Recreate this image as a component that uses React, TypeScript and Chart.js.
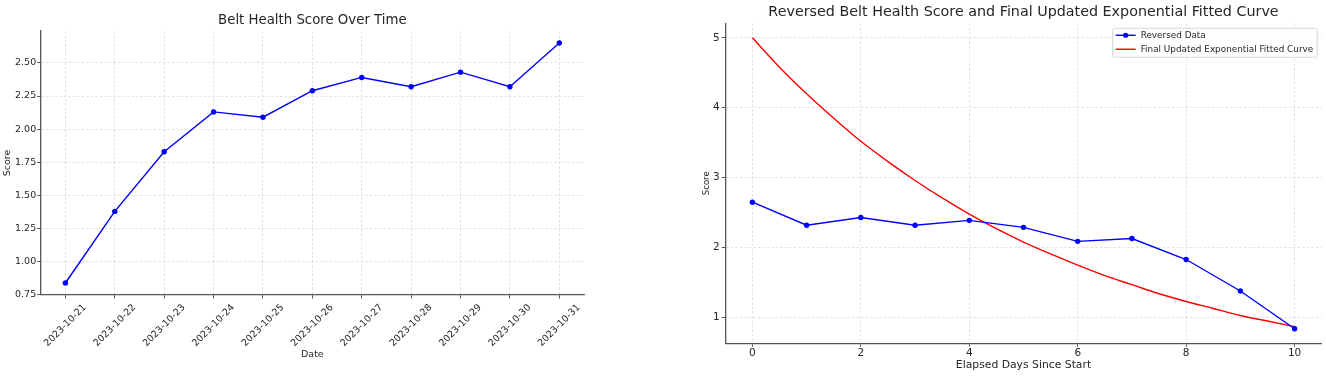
import React, { useEffect, useRef } from 'react';
import { Chart, registerables } from 'chart.js';

Chart.register(...registerables);

// ---------- data ----------
const dateLabels = [
  '2023-10-21', '2023-10-22', '2023-10-23', '2023-10-24', '2023-10-25', '2023-10-26',
  '2023-10-27', '2023-10-28', '2023-10-29', '2023-10-30', '2023-10-31',
];
const dayIndex = [0, 1, 2, 3, 4, 5, 6, 7, 8, 9, 10];
const healthScores = [0.84, 1.38, 1.83, 2.13, 2.09, 2.29, 2.39, 2.32, 2.43, 2.32, 2.65];

const elapsedDays = [0, 1, 2, 3, 4, 5, 6, 7, 8, 9, 10];
const reversedScores = [2.65, 2.32, 2.43, 2.32, 2.39, 2.29, 2.09, 2.13, 1.83, 1.38, 0.84];

const fitDays = [0, 0.5, 1, 1.5, 2, 2.5, 3, 3.5, 4, 4.5, 5, 5.5, 6, 6.5, 7, 7.5, 8, 8.5, 9, 9.5, 10];
const fitScores = [5.0, 4.58, 4.2, 3.85, 3.52, 3.23, 2.96, 2.71, 2.48, 2.27, 2.08, 1.91, 1.75, 1.6, 1.47, 1.34, 1.23, 1.13, 1.03, 0.95, 0.87];

const leftYTicks = [0.75, 1.0, 1.25, 1.5, 1.75, 2.0, 2.25, 2.5];
const rightXTicks = [0, 2, 4, 6, 8, 10];
const rightYTicks = [1, 2, 3, 4, 5];

// ---------- styles ----------
const FONT = "'DejaVu Sans', sans-serif";
const TEXT = '#262626';
const GRID = '#d9d9d9';
const SPINE = '#555555';
const BLUE = '#0000ff';
const RED = '#ff0000';

const insideLegend = {
  id: 'insideLegend',
  afterDatasetsDraw(chart: any) {
    const { ctx, chartArea } = chart;
    const ds = chart.data.datasets;
    ctx.save();
    ctx.font = `8.85px ${FONT}`;
    const textW = Math.max(...ds.map((d: any) => ctx.measureText(d.label).width));
    const boxW = 28 + textW + 4;
    const boxH = 29;
    const x0 = chartArea.right - 4.5 - boxW;
    const y0 = chartArea.top + 5;
    ctx.fillStyle = 'rgba(255,255,255,0.85)';
    ctx.strokeStyle = '#cccccc';
    ctx.lineWidth = 0.8;
    ctx.beginPath();
    ctx.roundRect(x0, y0, boxW, boxH, 2);
    ctx.fill();
    ctx.stroke();
    ds.forEach((d: any, i: number) => {
      const cy = y0 + 7 + i * 14;
      ctx.strokeStyle = d.borderColor;
      ctx.lineWidth = 1.4;
      ctx.beginPath();
      ctx.moveTo(x0 + 3, cy);
      ctx.lineTo(x0 + 23, cy);
      ctx.stroke();
      if (d.pointRadius > 0) {
        ctx.fillStyle = d.borderColor;
        ctx.beginPath();
        ctx.arc(x0 + 13, cy, 2.6, 0, Math.PI * 2);
        ctx.fill();
      }
      ctx.fillStyle = TEXT;
      ctx.textBaseline = 'middle';
      ctx.textAlign = 'left';
      ctx.fillText(d.label, x0 + 28, cy);
    });
    ctx.restore();
  },
};

export default function App() {
  const leftRef = useRef<HTMLCanvasElement>(null);
  const rightRef = useRef<HTMLCanvasElement>(null);

  useEffect(() => {
    const left = new Chart(leftRef.current as HTMLCanvasElement, {
      type: 'line',
      data: {
        datasets: [
          {
            label: 'Score',
            data: dayIndex.map((d, i) => ({ x: d, y: healthScores[i] })),
            borderColor: BLUE,
            backgroundColor: BLUE,
            pointBackgroundColor: BLUE,
            pointBorderWidth: 0,
            pointRadius: 2.7,
            borderWidth: 1.4,
            tension: 0,
          },
        ],
      },
      options: {
        responsive: false,
        animation: false,
        devicePixelRatio: 1,
        layout: { padding: { left: 0, right: 16, top: 0, bottom: 0 } },
        plugins: {
          legend: { display: false },
          tooltip: { enabled: false },
          title: {
            display: true,
            text: 'Belt Health Score Over Time',
            fullSize: false,
            color: TEXT,
            font: { family: FONT, size: 13.3, weight: 'normal' },
            padding: { top: 13, bottom: 2 },
          },
        },
        scales: {
          x: {
            type: 'linear',
            min: -0.5,
            max: 10.5,
            afterBuildTicks: (s: any) => {
              s.ticks = dayIndex.map((v) => ({ value: v }));
            },
            afterFit: (s: any) => {
              s.height = 84;
            },
            ticks: {
              autoSkip: false,
              minRotation: 45,
              maxRotation: 45,
              labelOffset: 19.5,
              padding: 3.5,
              color: TEXT,
              font: { family: FONT, size: 9.5 },
              callback: (v: any) => dateLabels[Math.round(v)] ?? '',
            },
            grid: { color: GRID, lineWidth: 0.8, tickLength: 3.5, tickColor: SPINE, tickWidth: 1 },
            border: { color: SPINE, width: 1.3, dash: [2.5, 2] },
            title: {
              display: true,
              text: 'Date',
              color: TEXT,
              font: { family: FONT, size: 9.5 },
              padding: { top: 0, bottom: 19 },
            },
          },
          y: {
            type: 'linear',
            min: 0.7495,
            max: 2.7405,
            afterBuildTicks: (s: any) => {
              s.ticks = leftYTicks.map((v) => ({ value: v }));
            },
            afterFit: (s: any) => {
              s.width = 40.7;
            },
            ticks: {
              padding: 1,
              color: TEXT,
              font: { family: FONT, size: 9.5 },
              callback: (v: any) => Number(v).toFixed(2),
            },
            grid: { color: GRID, lineWidth: 0.8, tickLength: 3.5, tickColor: SPINE, tickWidth: 1 },
            border: { color: SPINE, width: 1.3, dash: [2.5, 2] },
            title: {
              display: true,
              text: 'Score',
              color: TEXT,
              font: { family: FONT, size: 9.5 },
              padding: { top: 1.5, bottom: 0 },
            },
          },
        },
      },
    } as any);

    const right = new Chart(rightRef.current as HTMLCanvasElement, {
      type: 'line',
      data: {
        datasets: [
          {
            label: 'Reversed Data',
            data: elapsedDays.map((d, i) => ({ x: d, y: reversedScores[i] })),
            borderColor: BLUE,
            backgroundColor: BLUE,
            pointBackgroundColor: BLUE,
            pointBorderWidth: 0,
            pointRadius: 2.7,
            borderWidth: 1.4,
            tension: 0,
          },
          {
            label: 'Final Updated Exponential Fitted Curve',
            data: fitDays.map((d, i) => ({ x: d, y: fitScores[i] })),
            borderColor: RED,
            backgroundColor: RED,
            pointRadius: 0,
            borderWidth: 1.4,
            cubicInterpolationMode: 'monotone',
          },
        ],
      },
      options: {
        responsive: false,
        animation: false,
        devicePixelRatio: 1,
        layout: { padding: { left: 0, right: 4.3, top: 0, bottom: 0 } },
        plugins: {
          legend: { display: false },
          tooltip: { enabled: false },
          title: {
            display: true,
            text: 'Reversed Belt Health Score and Final Updated Exponential Fitted Curve',
            fullSize: false,
            color: TEXT,
            font: { family: FONT, size: 14.3, weight: 'normal' },
            padding: { top: 3.9, bottom: 2.2 },
          },
        },
        scales: {
          x: {
            type: 'linear',
            min: -0.5,
            max: 10.5,
            afterBuildTicks: (s: any) => {
              s.ticks = rightXTicks.map((v) => ({ value: v }));
            },
            afterFit: (s: any) => {
              s.height = 35.7;
            },
            ticks: {
              autoSkip: false,
              maxRotation: 0,
              padding: 0.5,
              color: TEXT,
              font: { family: FONT, size: 10.5 },
              callback: (v: any) => String(v),
            },
            grid: { color: GRID, lineWidth: 0.8, tickLength: 3.5, tickColor: SPINE, tickWidth: 1 },
            border: { color: SPINE, width: 1.3, dash: [2.5, 2] },
            title: {
              display: true,
              text: 'Elapsed Days Since Start',
              color: TEXT,
              font: { family: FONT, size: 10.8 },
              padding: { top: 0, bottom: 7.5 },
            },
          },
          y: {
            type: 'linear',
            min: 0.632,
            max: 5.208,
            afterBuildTicks: (s: any) => {
              s.ticks = rightYTicks.map((v) => ({ value: v }));
            },
            afterFit: (s: any) => {
              s.width = 35.3;
            },
            ticks: {
              padding: 2,
              color: TEXT,
              font: { family: FONT, size: 10.5 },
              callback: (v: any) => String(v),
            },
            grid: { color: GRID, lineWidth: 0.8, tickLength: 3.5, tickColor: SPINE, tickWidth: 1 },
            border: { color: SPINE, width: 1.3, dash: [2.5, 2] },
            title: {
              display: true,
              text: 'Score',
              color: TEXT,
              font: { family: FONT, size: 8.5 },
              padding: { top: 11.6, bottom: 0 },
            },
          },
        },
      },
      plugins: [insideLegend],
    } as any);

    return () => {
      left.destroy();
      right.destroy();
    };
  }, []);

  return (
    <div style={{ position: 'absolute', left: 0, top: 0, width: 1326, height: 379, background: '#ffffff' }}>
      <canvas
        ref={leftRef}
        width={600}
        height={379}
        style={{ position: 'absolute', left: 0, top: 0, width: 600, height: 379 }}
      />
      <canvas
        ref={rightRef}
        width={636}
        height={379}
        style={{ position: 'absolute', left: 690, top: 0, width: 636, height: 379 }}
      />
    </div>
  );
}
